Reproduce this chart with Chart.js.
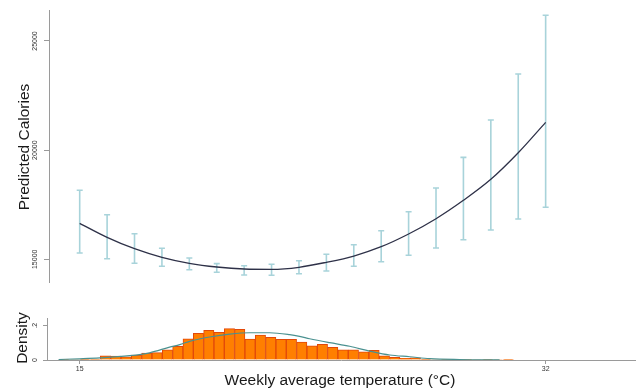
<!DOCTYPE html>
<html>
<head>
<meta charset="utf-8">
<script src="https://cdn.jsdelivr.net/npm/chart.js@4"></script>
<style>
  html, body { margin: 0; padding: 0; background: #fff; }
  #wrap { position: relative; width: 638px; height: 389px; overflow: hidden; }
  #top { position: absolute; left: 0; top: 0; }
  #bottom { position: absolute; left: 0; top: 295px; }
</style>
</head>
<body>
<div id="wrap">
  <canvas id="top" width="638" height="295"></canvas>
  <canvas id="bottom" width="638" height="94"></canvas>
</div>
<script>
// temperature points (°C) for the prediction panel
const temps = [15, 16, 17, 18, 19, 20, 21, 22, 23, 24, 25, 26, 27, 28, 29, 30, 31, 32];
const predicted = [16649, 16008, 15486, 15092, 14817, 14647, 14556, 14542, 14634, 14863, 15151, 15577, 16159, 16859, 17702, 18664, 19882, 21274];
const ciHigh = [18160, 17043, 16172, 15504, 15060, 14800, 14707, 14771, 14936, 15229, 15669, 16310, 17180, 18265, 19670, 21380, 23487, 26182];
const ciLow  = [15289, 15027, 14817, 14679, 14524, 14405, 14281, 14267, 14341, 14464, 14679, 14890, 15183, 15518, 15898, 16342, 16846, 17382];
const calTicks = [15000, 20000, 25000];

// histogram of weekly temperatures (bin centres, density)
const binCenters = [14.433, 14.810, 15.187, 15.564, 15.941, 16.318, 16.694, 17.071, 17.448, 17.825,
  18.202, 18.579, 18.956, 19.333, 19.710, 20.087, 20.463, 20.840, 21.217, 21.594,
  21.971, 22.348, 22.725, 23.102, 23.479, 23.856, 24.232, 24.609, 24.986, 25.363,
  25.740, 26.117, 26.494, 26.871, 27.248, 27.625, 28.001, 28.378, 28.755, 29.132,
  29.509, 29.886, 30.263, 30.640];
const binDensity = [0.002, 0.003, 0.004, 0.006, 0.025, 0.023, 0.019, 0.029, 0.041, 0.043,
  0.059, 0.080, 0.124, 0.155, 0.173, 0.162, 0.183, 0.179, 0.122, 0.146,
  0.132, 0.120, 0.120, 0.105, 0.082, 0.091, 0.074, 0.060, 0.060, 0.047,
  0.056, 0.025, 0.016, 0.010, 0.012, 0.004, 0.003, 0.002, 0.001, 0.001,
  0.003, 0.001, 0.003, 0.001];

// fitted density curve
const curveT = [14.23, 15.0, 15.73, 16.82, 17.55, 18.28, 18.65, 19.01, 19.74, 20.47, 21.2, 21.93, 22.66, 23.02, 23.39, 24.12, 24.85, 25.58, 26.31, 27.04, 27.77, 28.86, 30.32];
const curveD = [0.003, 0.007, 0.012, 0.025, 0.042, 0.075, 0.090, 0.109, 0.134, 0.151, 0.159, 0.159, 0.148, 0.138, 0.124, 0.101, 0.080, 0.052, 0.029, 0.019, 0.008, 0.003, 0.001];
const densTicks = [0, 0.2];
const densTickLabels = ['0', '.2'];
const tempTicks = [15, 32];

const FONT = "'Liberation Sans', Arial, Helvetica, sans-serif";
const AXIS_GREY = '#9a9a9a';

function rotatedText(ctx, text, x, y, size, color) {
  ctx.save();
  ctx.translate(x, y);
  ctx.rotate(-Math.PI / 2);
  ctx.font = size + 'px ' + FONT;
  ctx.fillStyle = color;
  ctx.textAlign = 'center';
  ctx.textBaseline = 'middle';
  ctx.fillText(text, 0, 0);
  ctx.restore();
}

// error bars + rotated y labels for the top panel
const topDecor = {
  id: 'topDecor',
  beforeDatasetsDraw(chart) {
    const ctx = chart.ctx;
    const xs = chart.scales.x, ys = chart.scales.y;
    ctx.save();
    ctx.strokeStyle = '#a8d3da';
    ctx.lineWidth = 1.6;
    temps.forEach((t, i) => {
      const px = xs.getPixelForValue(t);
      const yHi = ys.getPixelForValue(ciHigh[i]);
      const yLo = ys.getPixelForValue(ciLow[i]);
      ctx.beginPath();
      ctx.moveTo(px, yHi); ctx.lineTo(px, yLo);
      ctx.moveTo(px - 3, yHi); ctx.lineTo(px + 3, yHi);
      ctx.moveTo(px - 3, yLo); ctx.lineTo(px + 3, yLo);
      ctx.stroke();
    });
    ctx.restore();
  },
  afterDraw(chart) {
    const ctx = chart.ctx;
    const ys = chart.scales.y;
    calTicks.forEach(v => rotatedText(ctx, String(v), 35.5, ys.getPixelForValue(v), 7, '#333'));
    rotatedText(ctx, 'Predicted Calories', 25, 147, 15.5, '#1a1a1a');
  }
};

new Chart(document.getElementById('top'), {
  type: 'line',
  data: {
    datasets: [{
      data: temps.map((t, i) => ({ x: t, y: predicted[i] })),
      borderColor: '#2e3148',
      borderWidth: 1.3,
      pointRadius: 0,
      cubicInterpolationMode: 'monotone',
      fill: false
    }]
  },
  options: {
    responsive: false,
    animation: false,
    layout: { padding: { top: 10, bottom: 13, left: 0, right: 3 } },
    plugins: { legend: { display: false }, tooltip: { enabled: false } },
    scales: {
      x: { type: 'linear', display: false, min: 13.88, max: 35.26 },
      y: {
        min: 13960, max: 26420,
        afterBuildTicks: s => { s.ticks = calTicks.map(v => ({ value: v })); },
        afterFit: s => { s.width = 49; },
        ticks: { display: false },
        grid: { drawOnChartArea: false, tickLength: 5, color: AXIS_GREY },
        border: { color: AXIS_GREY }
      }
    }
  },
  plugins: [topDecor]
});

// rotated y labels and titles for the histogram panel
const bottomDecor = {
  id: 'bottomDecor',
  afterDraw(chart) {
    const ctx = chart.ctx;
    const ys = chart.scales.y;
    densTicks.forEach((v, i) => rotatedText(ctx, densTickLabels[i], 35.5, ys.getPixelForValue(v), 7, '#333'));
    rotatedText(ctx, 'Density', 23, 43, 15.5, '#1a1a1a');
    ctx.save();
    ctx.font = '15.5px ' + FONT;
    ctx.fillStyle = '#1a1a1a';
    ctx.textAlign = 'center';
    ctx.textBaseline = 'middle';
    ctx.fillText('Weekly average temperature (°C)', 340, 86);
    ctx.restore();
  }
};

new Chart(document.getElementById('bottom'), {
  type: 'bar',
  data: {
    datasets: [{
      type: 'line',
      data: curveT.map((t, i) => ({ x: t, y: curveD[i] })),
      borderColor: '#4a9190',
      borderWidth: 1.2,
      pointRadius: 0,
      cubicInterpolationMode: 'monotone',
      fill: false,
      order: 0
    }, {
      type: 'bar',
      data: binCenters.map((c, i) => ({ x: c, y: binDensity[i] })),
      backgroundColor: '#ff7f00',
      borderColor: '#e2480a',
      borderWidth: 1,
      barPercentage: 1.0,
      categoryPercentage: 1.0,
      order: 1
    }]
  },
  options: {
    responsive: false,
    animation: false,
    layout: { padding: { top: 23, bottom: 0, left: 0, right: 3 } },
    plugins: { legend: { display: false }, tooltip: { enabled: false } },
    scales: {
      x: {
        type: 'linear', min: 13.807, max: 35.26, offset: false,
        afterBuildTicks: s => { s.ticks = tempTicks.map(v => ({ value: v })); },
        afterFit: s => { s.height = 29; },
        ticks: { font: { size: 7, family: FONT }, color: '#333', padding: 1, maxRotation: 0 },
        grid: { drawOnChartArea: false, tickLength: 4, color: AXIS_GREY, offset: false },
        border: { color: AXIS_GREY }
      },
      y: {
        min: 0, max: 0.245,
        afterBuildTicks: s => { s.ticks = densTicks.map(v => ({ value: v })); },
        afterFit: s => { s.width = 47; },
        ticks: { display: false },
        grid: { drawOnChartArea: false, tickLength: 4, color: AXIS_GREY },
        border: { color: AXIS_GREY }
      }
    }
  },
  plugins: [bottomDecor]
});
</script>
</body>
</html>
